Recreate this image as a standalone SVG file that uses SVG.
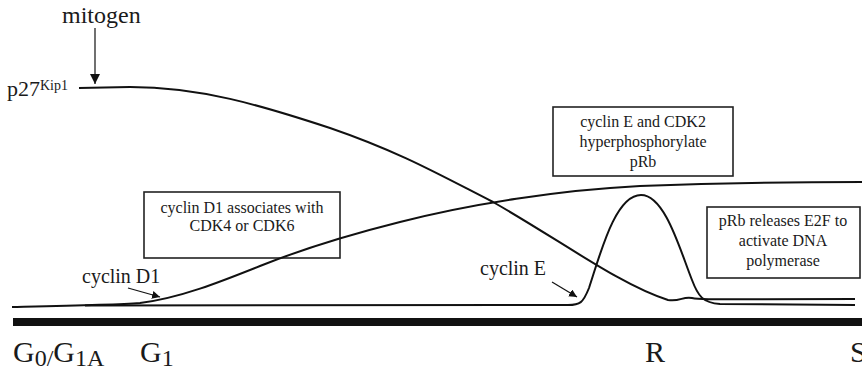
<svg xmlns="http://www.w3.org/2000/svg" width="862" height="374" viewBox="0 0 862 374">
<style>
text{font-family:"Liberation Serif","Times New Roman",serif;fill:#1a1a1a}
.curve{fill:none;stroke:#111;stroke-width:2}
.box{fill:none;stroke:#222;stroke-width:1.6}
.bt{font-size:16px;text-anchor:middle}
.lab{font-size:20px}
.ph{font-size:30px}
.sub{font-size:24px}
.arr{stroke:#111;stroke-width:1.2;fill:none}
</style>
<defs>
<marker id="ah" viewBox="0 0 10 10" refX="10" refY="5" markerWidth="8" markerHeight="8" markerUnits="userSpaceOnUse" orient="auto">
<path d="M0,0 L10,5 L0,10 z" fill="#111"/>
</marker>
<marker id="ah2" viewBox="0 0 10 10" refX="10" refY="5" markerWidth="10" markerHeight="10" markerUnits="userSpaceOnUse" orient="auto">
<path d="M0,0 L10,5 L0,10 z" fill="#111"/>
</marker>
</defs>
<rect id="bar" x="13" y="318" width="849" height="8" fill="#111"/>
<g id="mitogen"><text x="62" y="23" style="font-size:24px">mitogen</text></g>
<g id="p27"><text x="7" y="96" style="font-size:22px">p27<tspan style="font-size:14px" dy="-6">Kip1</tspan></text></g>
<g id="cyclinD1"><text class="lab" x="82" y="283">cyclin D1</text></g>
<g id="cyclinE"><text class="lab" x="480" y="275">cyclin E</text></g>
<g id="box1">
<rect class="box" x="144" y="192" width="196" height="66"/>
<text class="bt" x="242" y="213" style="font-family:'Liberation Serif',serif">cyclin D1 associates with</text>
<text class="bt" x="242" y="231" style="font-family:'Liberation Serif',serif">CDK4 or CDK6</text>
</g>
<g id="box2">
<rect class="box" x="553" y="107" width="180" height="69"/>
<text class="bt" x="643" y="127" style="font-family:'Liberation Serif',serif">cyclin E and CDK2</text>
<text class="bt" x="643" y="147" style="font-family:'Liberation Serif',serif">hyperphosphorylate</text>
<text class="bt" x="643" y="167" style="font-family:'Liberation Serif',serif">pRb</text>
</g>
<g id="box3">
<rect class="box" x="707" y="207" width="153" height="71"/>
<text class="bt" x="783" y="226" style="font-family:'Liberation Serif',serif">pRb releases E2F to</text>
<text class="bt" x="783" y="246" style="font-family:'Liberation Serif',serif">activate DNA</text>
<text class="bt" x="783" y="266" style="font-family:'Liberation Serif',serif">polymerase</text>
</g>
<g id="phases">
<text class="ph" x="13" y="362">G<tspan class="sub" dy="4">0/</tspan><tspan dy="-4">G</tspan><tspan class="sub" dy="4">1A</tspan></text>
<text class="ph" x="140" y="362">G<tspan class="sub" dy="4">1</tspan></text>
<text class="ph" x="645" y="362">R</text>
<text class="ph" x="850" y="362">S</text>
</g>
<g id="connectors">
<path class="curve" d="M79,88 L130,87 C200,87 260,105 330,128 C400,152 440,175 493,202 C560,240 620,285 668,300 C680,302 683,296 692,298 C700,300 720,299 855,299"/>
<path class="curve" d="M12,307 C60,306 115,305 140,303 C180,298 220,282 260,266 C300,250 340,237 400,222 C470,204 560,190 640,186 C720,183 800,182 862,182"/>
<path class="curve" d="M85,305.5 L568,305 C580,305 583,303 589,288 C600,255 615,195 641,195 C665,195 680,250 692,280 C698,296 703,303 720,304 L855,305"/>
<line class="arr" x1="95" y1="28" x2="95" y2="84" marker-end="url(#ah2)"/>
<line class="arr" x1="128" y1="288" x2="160" y2="297" marker-end="url(#ah)"/>
<line class="arr" x1="552" y1="282" x2="577" y2="297" marker-end="url(#ah)"/>
</g>
</svg>
